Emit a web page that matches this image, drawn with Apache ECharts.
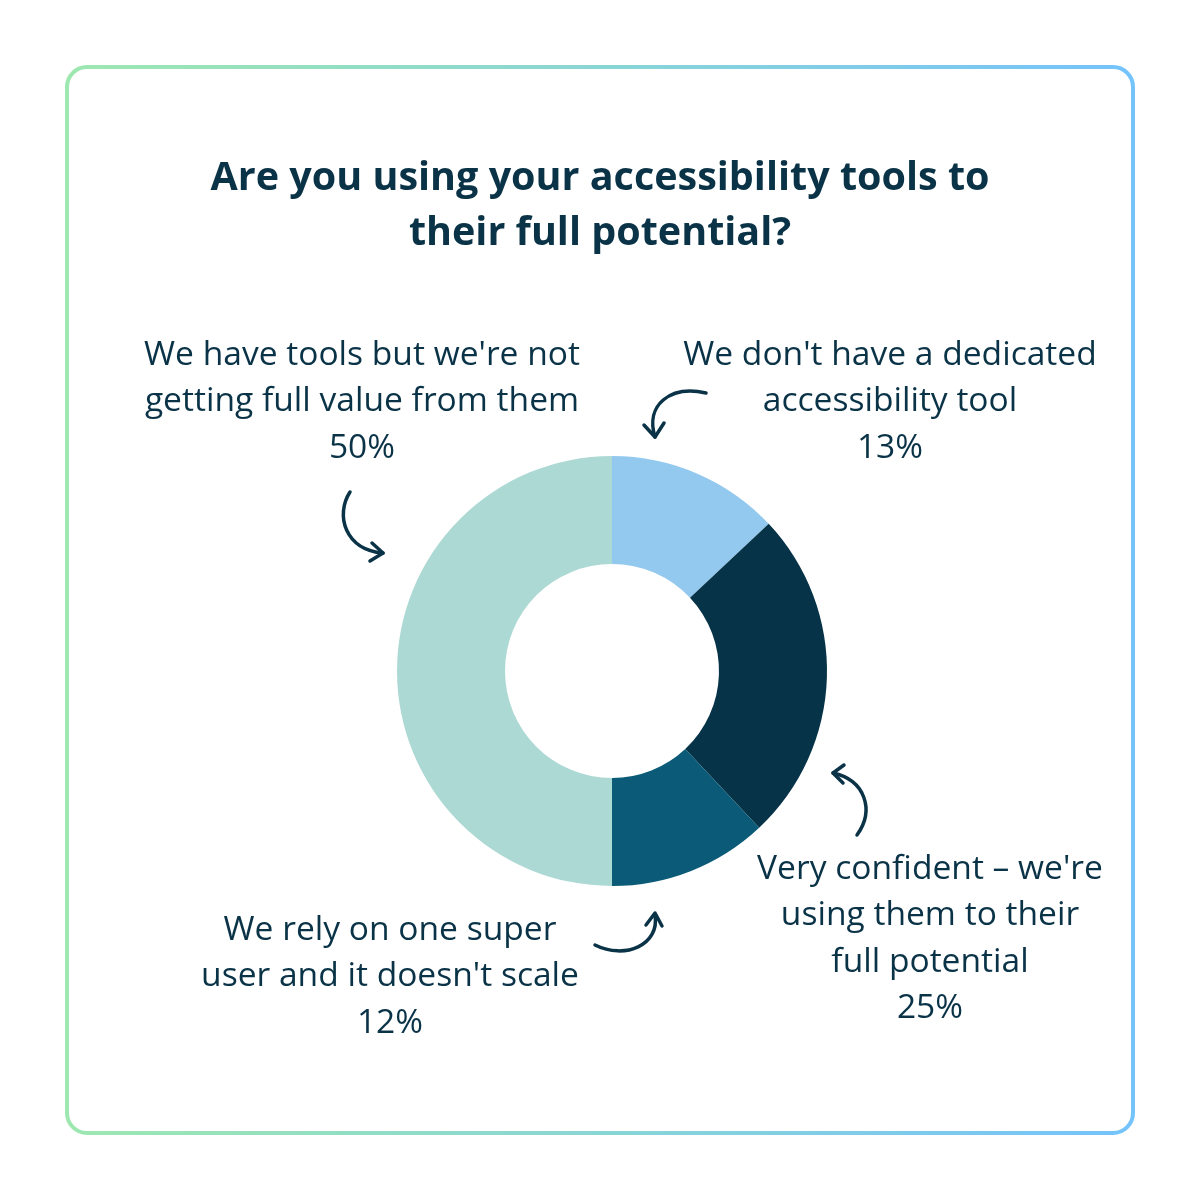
<!DOCTYPE html>
<html>
<head>
<meta charset="utf-8">
<script src="https://cdn.jsdelivr.net/npm/echarts@6/dist/echarts.min.js"></script>
<style>html,body{margin:0;background:#fff}#chart{width:1200px;height:1200px}</style>
</head>
<body>
<div id="chart"></div>
<script>
// Data
const categories = [
  "We don't have a dedicated\naccessibility tool",
  "Very confident – we're\nusing them to their\nfull potential",
  "We rely on one super\nuser and it doesn't scale",
  "We have tools but we're not\ngetting full value from them"
];
const shares = [13, 25, 12, 50];
const colors = ['#94c9ef', '#063347', '#0b5a77', '#add9d4'];

// label anchors (center x, top y)
const labelPos = [[890, 332], [930, 846], [390, 907], [362, 332]];

const ink = '#0a3347';
const chart = echarts.init(document.getElementById('chart'));

const labels = categories.map((c, i) => ({
  type: 'text', x: labelPos[i][0], y: labelPos[i][1],
  style: {
    text: c + '\n' + shares[i] + '%', fill: ink, font: '33.6px "Open Sans"',
    lineHeight: 46.5, align: 'center'
  }
}));

function arrow(pts, head) {
  return [
    { type: 'bezierCurve', shape: { x1: pts[0], y1: pts[1], cpx1: pts[2], cpy1: pts[3], cpx2: pts[4], cpy2: pts[5], x2: pts[6], y2: pts[7] },
      style: { stroke: ink, lineWidth: 3.5, fill: null, lineCap: 'round' } },
    { type: 'polyline', shape: { points: head }, style: { stroke: ink, lineWidth: 3.5, fill: null, lineCap: 'round', lineJoin: 'round' } }
  ];
}

chart.setOption({
  title: {
    text: 'Are you using your accessibility tools to\ntheir full potential?',
    left: 'center', top: 146,
    textStyle: { fontFamily: 'Open Sans', fontWeight: 'bold', fontSize: 39.5, color: ink, lineHeight: 55, align: 'center' }
  },
  graphic: [
    { type: 'rect', shape: { x: 67, y: 67, width: 1066, height: 1066, r: 20 },
      style: { fill: null, lineWidth: 4, stroke: new echarts.graphic.LinearGradient(0, 0, 1, 0, [{ offset: 0, color: '#9de8b0' }, { offset: 1, color: '#74c3fb' }]) } },
    ...labels,
    ...arrow([706, 393, 670, 385, 645, 405, 655, 437], [[644, 425], [655, 437], [664, 423]]),
    ...arrow([350, 492, 335, 515, 345, 550, 383, 553], [[372, 543], [383, 553], [370, 561]]),
    ...arrow([857, 835, 875, 810, 865, 780, 833, 773], [[844, 765], [833, 773], [843, 783]]),
    ...arrow([595, 945, 625, 960, 660, 945, 655, 915], [[646, 925], [655, 913], [662, 926]])
  ],
  series: [{
    type: 'pie', center: [612, 671], radius: [107, 215], startAngle: 90, clockwise: true,
    label: { show: false }, labelLine: { show: false }, silent: true,
    data: categories.map((c, i) => ({ name: c, value: shares[i], itemStyle: { color: colors[i] } }))
  }]
});
</script>
</body>
</html>
